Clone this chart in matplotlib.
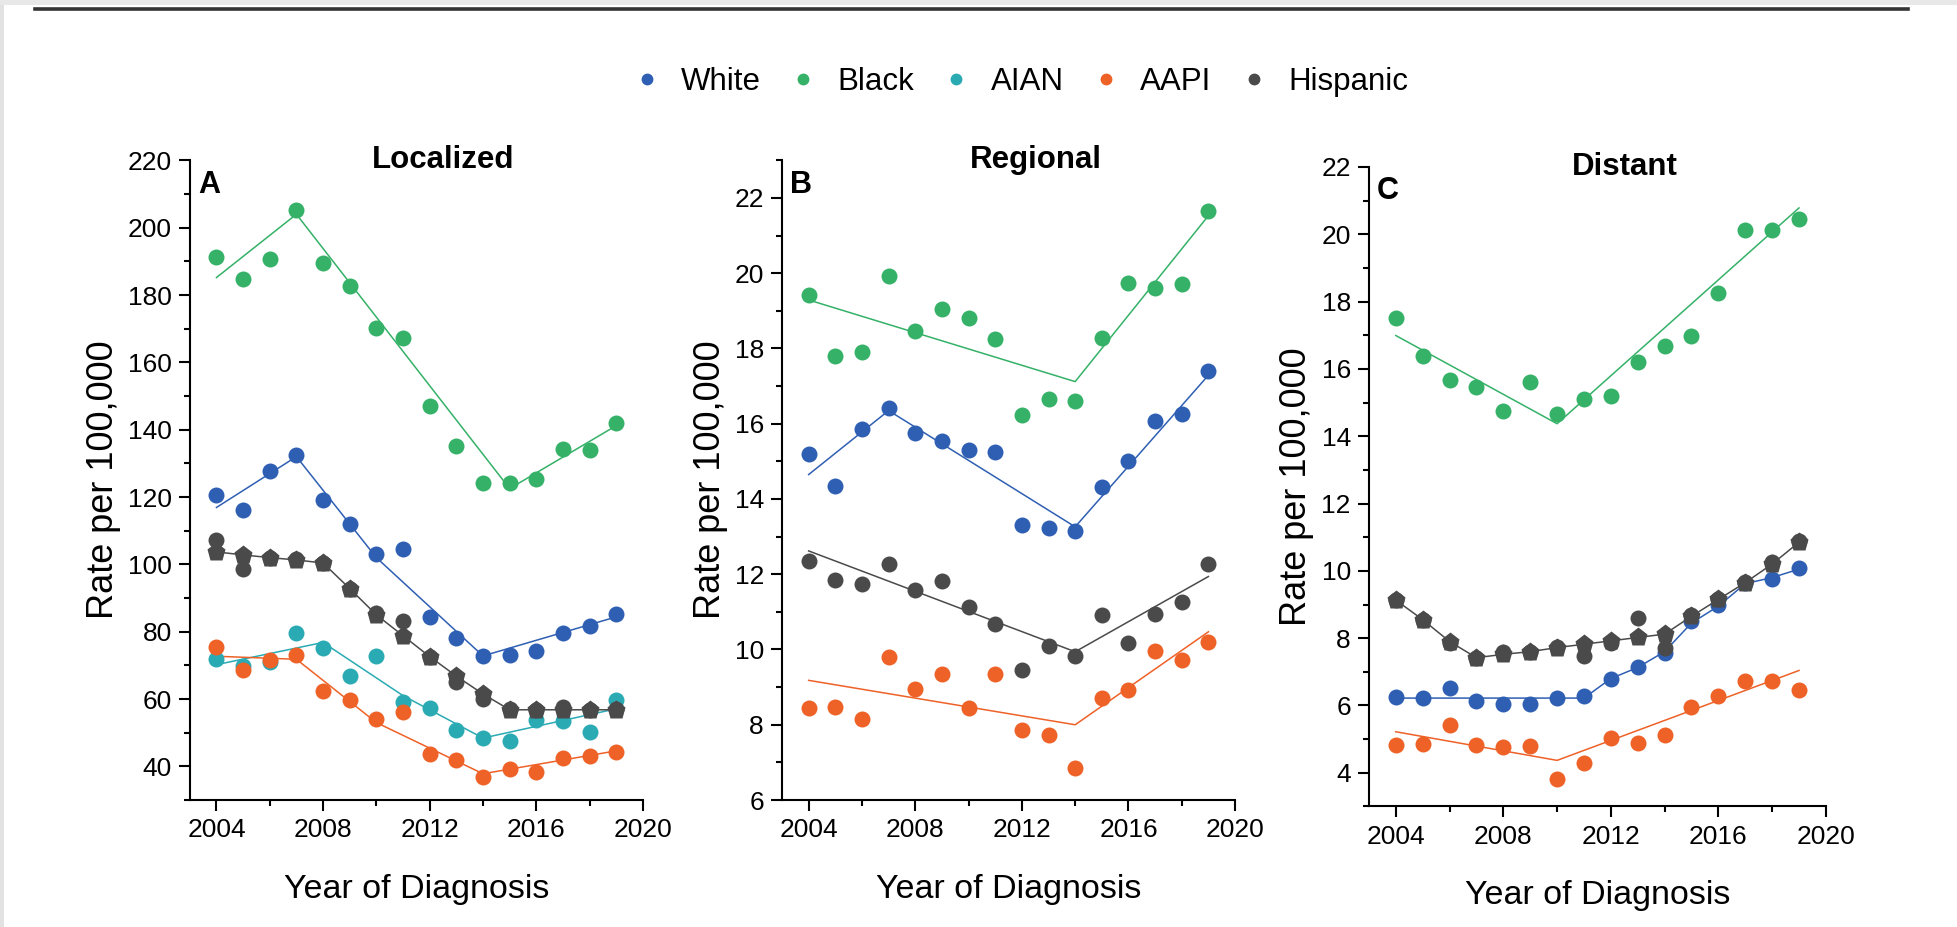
import matplotlib.pyplot as plt
from matplotlib.lines import Line2D
from matplotlib.patches import Rectangle

years = list(range(2004, 2020))
groups = ["White", "Black", "AIAN", "AAPI", "Hispanic"]
colors = {
    "White": "#2f5fb3",
    "Black": "#35b168",
    "AIAN": "#2aaab3",
    "AAPI": "#ee6127",
    "Hispanic": "#4a4a4a",
}

# observed rates, localized stage
loc_white = [120.7, 116.2, 127.8, 132.5, 119.2, 112.1, 103.1, 104.5, 84.4, 78.0, 72.8, 73.1, 74.2, 79.5, 81.8, 85.3]
loc_black = [191.4, 184.9, 190.8, 205.3, 189.4, 182.7, 170.1, 167.2, 147.0, 135.1, 124.2, 124.3, 125.5, 134.3, 134.1, 142.0]
loc_aian = [71.8, 69.8, 70.9, 79.7, 75.1, 66.9, 72.7, 59.0, 57.3, 50.8, 48.5, 47.5, 53.8, 53.5, 50.1, 59.6]
loc_aapi = [75.3, 68.5, 71.5, 73.0, 62.3, 59.8, 54.2, 56.2, 43.7, 41.8, 36.8, 39.2, 38.3, 42.6, 43.0, 44.2]
loc_hisp = [107.3, 98.7, 102.0, 101.7, 100.4, 92.8, 85.6, 83.1, 72.6, 65.2, 60.0, 57.1, 56.8, 57.7, 56.8, 57.1]
loc_hisp_fit = [103.7, 102.8, 102.0, 101.3, 100.4, 92.8, 85.0, 78.8, 72.6, 66.8, 61.5, 56.8, 56.8, 56.8, 56.8, 56.8]

# joinpoint segments, localized stage (year, fitted rate)
loc_white_jp = ([2004, 2007, 2010, 2014, 2019], [116.9, 132.0, 102.0, 72.8, 84.4])
loc_black_jp = ([2004, 2007, 2015, 2019], [185.2, 204.0, 122.5, 141.2])
loc_aian_jp = ([2004, 2008, 2011, 2014, 2019], [70.2, 76.8, 61.0, 48.4, 57.1])
loc_aapi_jp = ([2004, 2007, 2010, 2014, 2019], [72.7, 71.8, 53.0, 37.8, 44.6])

# regional stage
reg_white = [15.20, 14.35, 15.86, 16.41, 15.75, 15.53, 15.29, 15.26, 13.32, 13.24, 13.15, 14.33, 15.02, 16.08, 16.27, 17.40]
reg_black = [19.41, 17.80, 17.91, 19.92, 18.46, 19.04, 18.82, 18.26, 16.24, 16.67, 16.61, 18.29, 19.73, 19.62, 19.71, 21.65]
reg_aapi = [8.45, 8.47, 8.15, 9.79, 8.96, 9.35, 8.45, 9.35, 7.86, 7.73, 6.85, 8.71, 8.93, 9.96, 9.73, 10.21]
reg_hisp = [12.35, 11.86, 11.73, 12.27, 11.59, 11.82, 11.12, 10.67, 9.45, 10.09, 9.82, 10.93, 10.18, 10.94, 11.26, 12.27]
reg_white_jp = ([2004, 2007, 2014, 2019], [14.65, 16.35, 13.26, 17.29])
reg_black_jp = ([2004, 2014, 2019], [19.29, 17.12, 21.53])
reg_aapi_jp = ([2004, 2014, 2019], [9.18, 8.00, 10.47])
reg_hisp_jp = ([2004, 2014, 2019], [12.62, 9.94, 11.94])

# distant stage
dis_white = [6.24, 6.22, 6.51, 6.14, 6.05, 6.04, 6.21, 6.29, 6.80, 7.13, 7.57, 8.51, 9.00, 9.63, 9.76, 10.09]
dis_black = [17.50, 16.38, 15.68, 15.45, 14.74, 15.62, 14.67, 15.09, 15.18, 16.21, 16.67, 16.97, 18.25, 20.13, 20.11, 20.45]
dis_aapi = [4.83, 4.86, 5.42, 4.83, 4.76, 4.80, 3.82, 4.30, 5.03, 4.89, 5.13, 5.95, 6.28, 6.74, 6.74, 6.45]
dis_hisp = [9.13, 8.55, 7.86, 7.42, 7.58, 7.59, 7.75, 7.46, 7.86, 8.61, 7.72, 8.68, 9.17, 9.67, 10.25, 10.88]
dis_hisp_fit = [9.13, 8.55, 7.90, 7.42, 7.52, 7.60, 7.72, 7.82, 7.92, 8.02, 8.12, 8.65, 9.15, 9.65, 10.20, 10.85]
dis_white_jp = ([2004, 2011, 2012, 2013, 2014, 2015, 2016, 2017, 2018, 2019],
                [6.22, 6.22, 6.80, 7.13, 7.60, 8.45, 8.95, 9.62, 9.80, 10.05])
dis_black_jp = ([2004, 2010, 2019], [16.99, 14.37, 20.78])
dis_aapi_jp = ([2004, 2010, 2019], [5.22, 4.37, 7.04])

panels = [
    {
        "letter": "A", "title": "Localized", "ylim": (30, 220), "major": 20, "minor": 10,
        "points": {"White": loc_white, "Black": loc_black, "AIAN": loc_aian, "AAPI": loc_aapi, "Hispanic": loc_hisp},
        "lines": {"White": loc_white_jp, "Black": loc_black_jp, "AIAN": loc_aian_jp, "AAPI": loc_aapi_jp},
        "hisp_fit": loc_hisp_fit,
        "rect": [0.097, 0.137, 0.2315, 0.690],
    },
    {
        "letter": "B", "title": "Regional", "ylim": (6, 23), "major": 2, "minor": 1,
        "points": {"White": reg_white, "Black": reg_black, "AAPI": reg_aapi, "Hispanic": reg_hisp},
        "lines": {"White": reg_white_jp, "Black": reg_black_jp, "AAPI": reg_aapi_jp, "Hispanic": reg_hisp_jp},
        "hisp_fit": None,
        "rect": [0.3996, 0.137, 0.2315, 0.690],
    },
    {
        "letter": "C", "title": "Distant", "ylim": (3, 22), "major": 2, "minor": 1,
        "points": {"White": dis_white, "Black": dis_black, "AAPI": dis_aapi, "Hispanic": dis_hisp},
        "lines": {"White": dis_white_jp, "Black": dis_black_jp, "AAPI": dis_aapi_jp},
        "hisp_fit": dis_hisp_fit,
        "rect": [0.6995, 0.130, 0.2335, 0.690],
    },
]

plt.rcParams["font.family"] = ["Liberation Sans", "DejaVu Sans"]

fig = plt.figure(figsize=(19.57, 9.27), dpi=100)

# page frame: grey edge and dark rule at the top
fig.add_artist(Rectangle((0, 0), 0.002, 1, transform=fig.transFigure, color="#e2e2e2", lw=0))
fig.add_artist(Rectangle((0, 0.995), 1, 0.005, transform=fig.transFigure, color="#e8e8e8", lw=0))
fig.add_artist(Line2D([0.018, 0.975], [0.9905, 0.9905], transform=fig.transFigure, color="#333333", lw=2.6))

for p in panels:
    ax = fig.add_axes(p["rect"])
    for g in groups:
        if g not in p["points"]:
            continue
        ax.plot(years, p["points"][g], "o", color=colors[g], ms=11.5, mec="none", zorder=3)
        if g in p["lines"]:
            xs, ys = p["lines"][g]
            ax.plot(xs, ys, "-", color=colors[g], lw=1.1, zorder=2)
    if p["hisp_fit"] is not None:
        ax.plot(years, p["hisp_fit"], "-p", color=colors["Hispanic"], ms=14, mec="none", lw=1.1, zorder=4)

    ax.set_xlim(2003, 2020)
    ax.set_ylim(*p["ylim"])
    ax.set_xticks([2004, 2008, 2012, 2016, 2020])
    ax.set_xticks(range(2006, 2020, 4), minor=True)
    lo, hi = p["ylim"]
    first = lo + (-lo) % p["major"]
    ax.set_yticks(range(int(first), int(hi) + 1, p["major"]))
    ax.set_yticks(range(int(lo), int(hi) + 1, p["minor"]), minor=True)
    for side in ["top", "right"]:
        ax.spines[side].set_visible(False)
    for side in ["left", "bottom"]:
        ax.spines[side].set_linewidth(1.5)
    ax.tick_params(which="major", direction="out", length=8, width=1.5, labelsize=19, pad=5)
    ax.tick_params(which="minor", direction="out", length=4.5, width=1.5)
    ax.set_xlabel("Year of Diagnosis", fontsize=24.5, labelpad=23)
    ax.set_ylabel("Rate per 100,000", fontsize=26, labelpad=5)
    ax.text(0.018, 0.962, p["letter"], transform=ax.transAxes, fontsize=22,
            fontweight="bold", va="center", ha="left")
    ax.text(0.56, 1.0, p["title"], transform=ax.transAxes, fontsize=22.5,
            fontweight="bold", va="center", ha="center")

handles = [Line2D([], [], ls="none", marker="o", ms=8.5, mec="none", color=colors[g]) for g in groups]
fig.legend(handles, groups, loc="center", bbox_to_anchor=(0.521, 0.912), ncol=5, frameon=False,
           fontsize=22.5, handletextpad=0.6, columnspacing=0.85, handlelength=1.0)

fig.savefig("out.png", dpi=100, facecolor="white")
